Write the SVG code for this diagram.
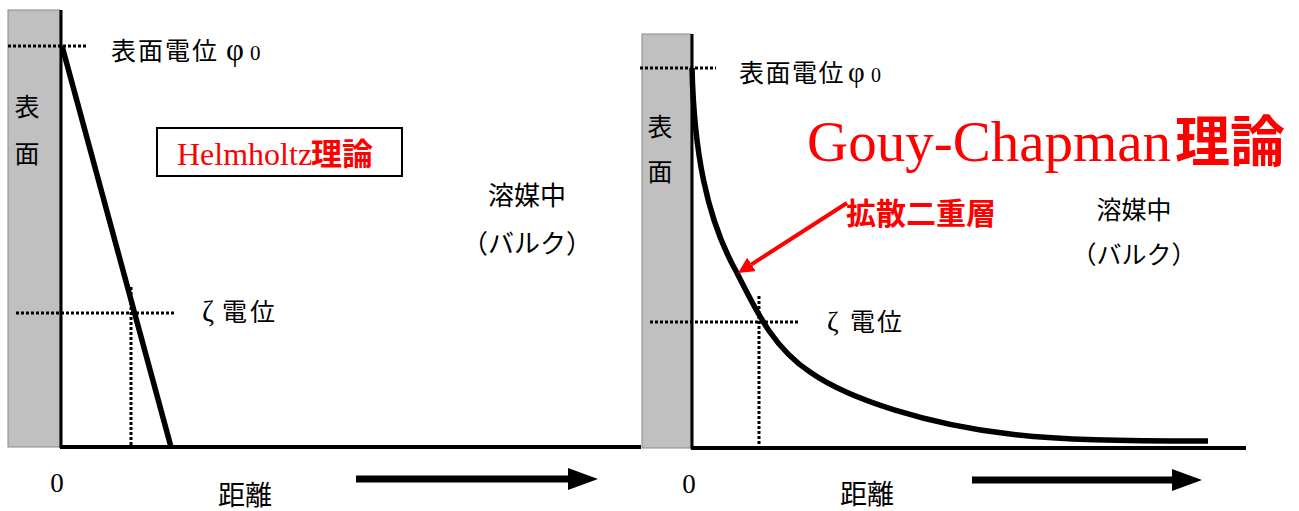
<svg xmlns="http://www.w3.org/2000/svg" width="1299" height="511" viewBox="0 0 1299 511">
<defs>
<style>
.jp{font-family:"Liberation Serif","Noto Sans CJK JP",serif;fill:#000}
.cjk{font-family:"Noto Sans CJK JP","Liberation Sans",sans-serif}
.rm{font-family:"Liberation Serif",serif}
.red{fill:#ff0000}
.wall{fill:#c0c0c0;stroke:#8a8a8a;stroke-width:1}
.axis{stroke:#000;fill:none}
.dot{stroke:#000;stroke-width:3;stroke-dasharray:3 2;fill:none}
.pot{stroke:#000;stroke-width:5.5;fill:none;stroke-linejoin:round}
</style>
<marker id="bigHead" viewBox="0 0 30 22" refX="0" refY="11" markerWidth="30" markerHeight="22" markerUnits="userSpaceOnUse" orient="auto">
<path d="M0,0 L30,11 L0,22 z" fill="#000"/>
</marker>
<marker id="redHead" viewBox="0 0 16 16" refX="0" refY="8" markerWidth="16" markerHeight="16" markerUnits="userSpaceOnUse" orient="auto">
<path d="M0,0 L16,8 L0,16 z" fill="#ff0000"/>
</marker>
</defs>
<rect width="1299" height="511" fill="#fff"/>

<g id="left-panel">
<g id="left-wall">
<rect class="wall" x="8" y="10" width="52" height="437"/>
<text class="jp cjk" x="27" y="116" font-size="25" text-anchor="middle">表</text>
<text class="jp cjk" x="27" y="163" font-size="25" text-anchor="middle">面</text>
</g>
<g id="left-axes">
<line class="axis" x1="61" y1="10" x2="61" y2="448" stroke-width="3"/>
<line class="axis" x1="60" y1="447" x2="641" y2="447" stroke-width="4"/>
</g>
<g id="left-guides">
<line class="dot" x1="8" y1="46" x2="86" y2="46"/>
<line class="dot" x1="16" y1="313" x2="174" y2="313"/>
<line class="dot" x1="131" y1="287" x2="131" y2="446"/>
</g>
<g id="left-potential">
<line class="pot" x1="62" y1="46" x2="171" y2="447"/>
</g>
<g id="left-phi0">
<text class="jp" font-size="25" y="60"><tspan x="111" class="cjk" letter-spacing="2">表面電位</tspan><tspan x="226" font-size="31">φ</tspan><tspan x="250" font-size="21">0</tspan></text>
</g>
<g id="left-zeta">
<text class="jp" font-size="25" y="321"><tspan x="202" font-size="29">ζ</tspan><tspan x="222" class="cjk" letter-spacing="3">電位</tspan></text>
</g>
<g id="helmholtz">
<rect x="157" y="128" width="245" height="48" fill="#fff" stroke="#000" stroke-width="2"/>
<text class="red" font-size="32" y="165"><tspan x="177" class="rm">Helmholtz</tspan><tspan x="311" class="cjk" font-weight="bold" font-size="31">理論</tspan></text>
</g>
<g id="left-bulk">
<text class="jp cjk" x="527" y="205" font-size="26" text-anchor="middle">溶媒中</text>
<text class="jp cjk" x="527" y="253" font-size="26" text-anchor="middle">（バルク）</text>
</g>
<g id="left-xlabels">
<text class="jp rm" x="57" y="492" font-size="27" text-anchor="middle">0</text>
<text class="jp cjk" x="245" y="505" font-size="27" text-anchor="middle">距離</text>
</g>
</g>

<g id="right-panel">
<g id="right-wall">
<rect class="wall" x="642" y="34" width="49" height="414"/>
<text class="jp cjk" x="660" y="136" font-size="25" text-anchor="middle">表</text>
<text class="jp cjk" x="660" y="181" font-size="25" text-anchor="middle">面</text>
</g>
<g id="right-axes">
<line class="axis" x1="692" y1="34" x2="692" y2="449" stroke-width="3"/>
<line class="axis" x1="691" y1="448" x2="1246" y2="448" stroke-width="4"/>
</g>
<g id="right-guides">
<line class="dot" x1="640" y1="68" x2="716" y2="68"/>
<line class="dot" x1="650" y1="322" x2="799" y2="322"/>
<line class="dot" x1="759" y1="296" x2="759" y2="447"/>
</g>
<g id="right-potential">
<path class="pot" d="M692,68 C694,150 706,218 737,273 C755,308 772,347 810,372 C850,400 930,425 1010,434 C1060,440 1120,441 1208,441"/>
</g>
<g id="right-phi0">
<text class="jp" font-size="25" y="82"><tspan x="739" class="cjk" letter-spacing="1.5">表面電位</tspan><tspan x="848" font-size="29">φ</tspan><tspan x="871" font-size="20">0</tspan></text>
</g>
<g id="right-zeta">
<text class="jp" font-size="25" y="331"><tspan x="827" font-size="28">ζ</tspan><tspan x="850" class="cjk" letter-spacing="2">電位</tspan></text>
</g>
<g id="gouy-chapman">
<text class="red" font-size="57" y="161"><tspan x="807" class="rm">Gouy-Chapman</tspan><tspan x="1175" class="cjk" font-size="55" font-weight="bold">理論</tspan></text>
</g>
<g id="diffuse-layer">
<text class="red cjk" x="846" y="224" font-size="30" font-weight="bold">拡散二重層</text>
</g>
<g id="right-bulk">
<text class="jp cjk" x="1134" y="219" font-size="25" text-anchor="middle">溶媒中</text>
<text class="jp cjk" x="1134" y="264" font-size="25" text-anchor="middle">（バルク）</text>
</g>
<g id="right-xlabels">
<text class="jp rm" x="689" y="493" font-size="27" text-anchor="middle">0</text>
<text class="jp cjk" x="867" y="504" font-size="27" text-anchor="middle">距離</text>
</g>
</g>

<g id="connectors">
<line x1="356" y1="479" x2="568" y2="479" stroke="#000" stroke-width="7" marker-end="url(#bigHead)"/>
<line x1="972" y1="480" x2="1172" y2="480" stroke="#000" stroke-width="7" marker-end="url(#bigHead)"/>
<line x1="847" y1="203" x2="751.5" y2="264.4" stroke="#ff0000" stroke-width="4" marker-end="url(#redHead)"/>
</g>
</svg>
